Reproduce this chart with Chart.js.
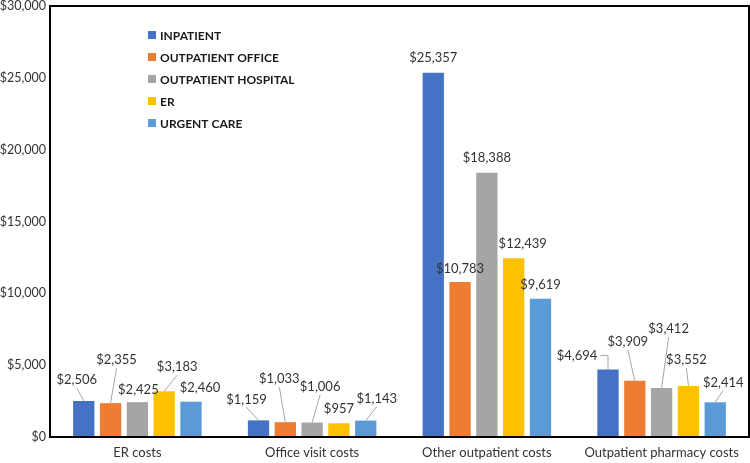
<!DOCTYPE html>
<html>
<head>
<meta charset="utf-8">
<script src="https://cdn.jsdelivr.net/npm/chart.js@4.4.0/dist/chart.umd.min.js"></script>
<style>
    html, body { margin: 0; padding: 0; background: #fff; }
    #wrap { width: 750px; height: 463px; }
</style>
</head>
<body>
<div id="wrap"><canvas id="costs-chart"></canvas></div>
<script>
var categories = ['ER costs', 'Office visit costs', 'Other outpatient costs', 'Outpatient pharmacy costs'];
var seriesNames = ['INPATIENT', 'OUTPATIENT OFFICE', 'OUTPATIENT HOSPITAL', 'ER', 'URGENT CARE'];
var inpatient          = [2506, 1159, 25357, 4694];
var outpatientOffice   = [2355, 1033, 10783, 3909];
var outpatientHospital = [2425, 1006, 18388, 3412];
var er                 = [3183,  957, 12439, 3552];
var urgentCare         = [2460, 1143,  9619, 2414];
var yTicks = [0, 5000, 10000, 15000, 20000, 25000, 30000];

var colors = ['#4472C4', '#ED7D31', '#A5A5A5', '#FFC000', '#5B9BD5'];

// label nudges (px) from the top centre of each bar, one row per series
var labelOffsets = [
    [[-7, -21], [-12, -21], [0, -15], [-31, -14]],
    [[6, -43],  [-6, -43],  [0, -13], [-7, -39]],
    [[1, -12],  [8, -36],   [0, -15], [7, -59]],
    [[13, -24], [0, -14],   [9, -14], [-2, -26]],
    [[9, -14],  [11, -22],  [0, -14], [8, -20]]
];

var fontFamily = 'Lato, "Open Sans", sans-serif';

function money(v) {
    return '$' + Number(v).toLocaleString('en-US');
}

function noScalePadding(scale) {
    scale.paddingTop = 0;
    scale.paddingBottom = 0;
    scale.paddingLeft = 0;
    scale.paddingRight = 0;
}

var frameAndLabels = {
    id: 'frameAndLabels',
    afterDatasetsDraw: function(chart) {
        var ctx = chart.ctx;
        var area = chart.chartArea;
        ctx.save();

        // data labels with leader lines
        ctx.font = '13px ' + fontFamily;
        ctx.textAlign = 'center';
        ctx.textBaseline = 'middle';
        chart.data.datasets.forEach(function(ds, di) {
            var meta = chart.getDatasetMeta(di);
            meta.data.forEach(function(bar, i) {
                var off = labelOffsets[di][i];
                var text = money(ds.data[i]);
                var lx = bar.x + off[0];
                var ly = bar.y + off[1];
                var w = ctx.measureText(text).width;
                var left = bar.x - bar.width / 2;
                if (off[1] <= -18 || Math.abs(off[0]) > 20) {
                    ctx.strokeStyle = '#A6A6A6';
                    ctx.lineWidth = 1;
                    ctx.beginPath();
                    if (lx + w / 2 < left + 2) {
                        ctx.moveTo(lx + w / 2 + 3, ly);
                        ctx.lineTo(bar.x, ly);
                        ctx.lineTo(bar.x, bar.y);
                    } else {
                        ctx.moveTo(lx, ly + 8);
                        ctx.lineTo(bar.x, bar.y);
                    }
                    ctx.stroke();
                }
                ctx.fillStyle = '#333';
                ctx.fillText(text, lx, ly);
            });
        });

        // plot frame
        ctx.strokeStyle = '#000';
        ctx.lineWidth = 2;
        ctx.strokeRect(area.left, area.top, area.right - area.left, area.bottom - area.top);

        // legend inside the plot
        ctx.font = 'bold 12px ' + fontFamily;
        ctx.textAlign = 'left';
        for (var k = 0; k < chart.data.datasets.length; k++) {
            var y = area.top + 29 + k * 22;
            ctx.fillStyle = chart.data.datasets[k].backgroundColor;
            ctx.fillRect(area.left + 98, y - 4, 8, 8);
            ctx.fillStyle = '#1a1a1a';
            ctx.fillText(chart.data.datasets[k].label, area.left + 110, y + 1);
        }
        ctx.restore();
    }
};

var seriesData = [inpatient, outpatientOffice, outpatientHospital, er, urgentCare];
var datasets = [];
for (var s = 0; s < seriesData.length; s++) {
    datasets.push({
        label: seriesNames[s],
        data: seriesData[s],
        backgroundColor: colors[s],
        categoryPercentage: 0.767,
        barPercentage: 0.795
    });
}

var ctx = document.getElementById('costs-chart').getContext('2d');
var costsChart = new Chart(ctx, {
    type: 'bar',
    data: {
        labels: categories,
        datasets: datasets
    },
    options: {
        responsive: true,
        maintainAspectRatio: false,
        animation: false,
        layout: {
            padding: { top: 6, right: 1, left: 0, bottom: 0 }
        },
        plugins: {
            legend: { display: false },
            tooltip: { enabled: false }
        },
        scales: {
            x: {
                afterFit: function(scale) {
                    scale.height = 26;
                    noScalePadding(scale);
                },
                grid: { display: false, drawTicks: false },
                border: { display: false },
                ticks: {
                    padding: 8,
                    color: '#333',
                    font: { family: fontFamily, size: 13 }
                }
            },
            y: {
                min: 0,
                max: 30000,
                afterBuildTicks: function(scale) {
                    scale.ticks = yTicks.map(function(v) { return { value: v }; });
                },
                afterFit: function(scale) {
                    scale.width = 50;
                    noScalePadding(scale);
                },
                grid: { display: false, drawTicks: false },
                border: { display: false },
                ticks: {
                    padding: 4,
                    color: '#333',
                    font: { family: fontFamily, size: 12.5 },
                    callback: function(v) { return money(v); }
                }
            }
        }
    },
    plugins: [frameAndLabels]
});
</script>
</body>
</html>
